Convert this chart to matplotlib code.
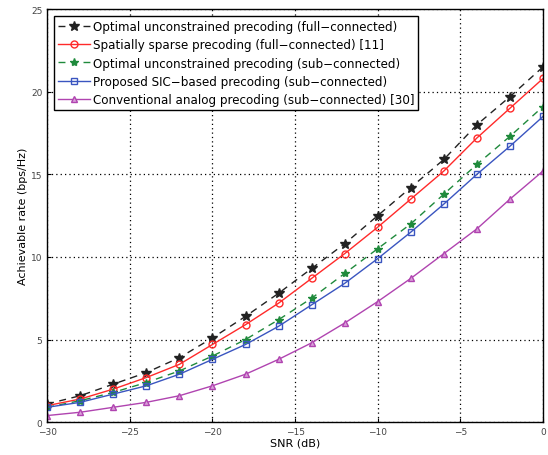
import matplotlib
matplotlib.use("Agg")
import matplotlib.pyplot as plt
import numpy as np

# SNR grid (dB)
snr_db = [-30, -28, -26, -24, -22, -20, -18, -16, -14, -12, -10, -8, -6, -4, -2, 0]

# achievable rates (bps/Hz)
opt_full = [1.1, 1.6, 2.3, 3.0, 3.9, 5.1, 6.4, 7.8, 9.3, 10.8, 12.5, 14.2, 15.9, 18.0, 19.7, 21.5]
sparse_full = [1.0, 1.4, 2.0, 2.7, 3.5, 4.7, 5.9, 7.2, 8.7, 10.2, 11.8, 13.5, 15.2, 17.2, 19.0, 20.8]
opt_sub = [0.9, 1.3, 1.8, 2.4, 3.1, 4.0, 5.0, 6.2, 7.5, 9.0, 10.5, 12.0, 13.8, 15.6, 17.3, 19.1]
sic_sub = [0.9, 1.2, 1.7, 2.2, 2.9, 3.8, 4.7, 5.8, 7.1, 8.4, 9.9, 11.5, 13.2, 15.0, 16.7, 18.5]
analog_sub = [0.4, 0.6, 0.9, 1.2, 1.6, 2.2, 2.9, 3.8, 4.8, 6.0, 7.3, 8.7, 10.2, 11.7, 13.5, 15.2]

labels = [
    "Optimal unconstrained precoding (full\u2212connected)",
    "Spatially sparse precoding (full\u2212connected) [11]",
    "Optimal unconstrained precoding (sub\u2212connected)",
    "Proposed SIC\u2212based precoding (sub\u2212connected)",
    "Conventional analog precoding (sub\u2212connected) [30]",
]

fig = plt.figure(figsize=(5.48, 4.56), dpi=100)
ax = fig.add_axes([0.086, 0.072, 0.905, 0.906])

ax.plot(snr_db, opt_full, ls=(0, (5, 4)), color="#222222", marker="*", ms=7, lw=1.0, label=labels[0])
ax.plot(snr_db, sparse_full, ls="-", color="#ff2a2a", marker="o", ms=5, mfc="none", mew=1.0, lw=1.0, label=labels[1])
ax.plot(snr_db, opt_sub, ls=(0, (5, 4)), color="#1f8a3c", marker="*", ms=6, lw=1.0, label=labels[2])
ax.plot(snr_db, sic_sub, ls="-", color="#3a55c0", marker="s", ms=4.5, mfc="none", mew=1.0, lw=1.0, label=labels[3])
ax.plot(snr_db, analog_sub, ls="-", color="#b044b0", marker="^", ms=5, mfc="#d9a0d9", mew=1.0, lw=1.0, label=labels[4])

ax.set_xlim(-30, 0)
ax.set_ylim(0, 25)
ax.set_xticks(np.arange(-30, 1, 5))
ax.set_yticks(np.arange(0, 26, 5))
ax.grid(True, color="black", ls=(0, (1, 2.5)), lw=0.9)
ax.tick_params(direction="in", labelsize=6.5, labelcolor="#444444", length=3)
for s in ax.spines.values():
    s.set_linewidth(1.0)

ax.set_xlabel("SNR (dB)", fontsize=8, labelpad=1)
ax.set_ylabel("Achievable rate (bps/Hz)", fontsize=8, labelpad=2)

leg = ax.legend(loc="upper left", fontsize=8.6, frameon=True, fancybox=False,
                handlelength=2.7, handletextpad=0.2, borderpad=0.3, labelspacing=0.45,
                borderaxespad=0.6)
leg.get_frame().set_edgecolor("black")
leg.get_frame().set_linewidth(1.0)
leg.get_frame().set_alpha(1.0)

fig.savefig("out.png", dpi=100)
